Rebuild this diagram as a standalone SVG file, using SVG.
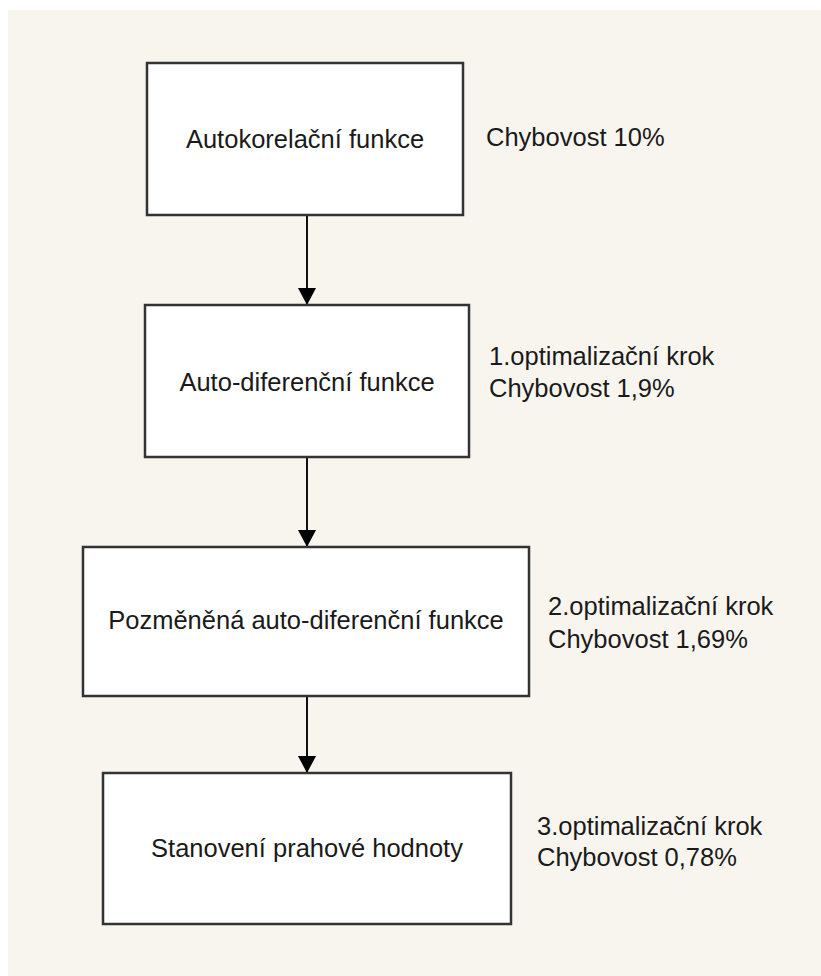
<svg xmlns="http://www.w3.org/2000/svg" width="821" height="976" viewBox="0 0 821 976">
<defs>
<style>
.box{fill:#ffffff;stroke:#333333;stroke-width:2.5}
.t{font-family:"Liberation Sans",Arial,sans-serif;font-size:25.5px;fill:#1a1a1a}
.c{text-anchor:middle}
.conn{stroke:#111111;stroke-width:2;fill:none;marker-end:url(#ah)}
</style>
<marker id="ah" markerUnits="userSpaceOnUse" markerWidth="17" markerHeight="18" viewBox="0 0 17 18" refX="17" refY="9" orient="auto">
<path d="M0,0 L17,9 L0,18 Z" fill="#000000"/>
</marker>
</defs>
<rect x="0" y="0" width="821" height="976" fill="#ffffff"/>
<rect x="8" y="10" width="813" height="966" fill="#f8f5ef"/>
<g id="connectors">
<line class="conn" x1="307" y1="216" x2="307" y2="305"/>
<line class="conn" x1="307" y1="458" x2="307" y2="547"/>
<line class="conn" x1="307" y1="697" x2="307" y2="773"/>
</g>
<g id="node1">
<rect class="box" x="147" y="63" width="316" height="152"/>
<text class="t c" x="305" y="148">Autokorelační funkce</text>
</g>
<g id="label1">
<text class="t" x="486" y="146">Chybovost 10%</text>
</g>
<g id="node2">
<rect class="box" x="145" y="305" width="324" height="152"/>
<text class="t c" x="307" y="391">Auto-diferenční funkce</text>
</g>
<g id="label2">
<text class="t" x="489" y="365">1.optimalizační krok</text>
<text class="t" x="489" y="397">Chybovost 1,9%</text>
</g>
<g id="node3">
<rect class="box" x="83" y="547" width="446" height="149"/>
<text class="t c" x="306" y="629">Pozměněná auto-diferenční funkce</text>
</g>
<g id="label3">
<text class="t" x="548" y="615">2.optimalizační krok</text>
<text class="t" x="548" y="648">Chybovost 1,69%</text>
</g>
<g id="node4">
<rect class="box" x="103" y="773" width="408" height="151"/>
<text class="t c" x="307" y="857">Stanovení prahové hodnoty</text>
</g>
<g id="label4">
<text class="t" x="537" y="835">3.optimalizační krok</text>
<text class="t" x="537" y="866">Chybovost 0,78%</text>
</g>
</svg>
